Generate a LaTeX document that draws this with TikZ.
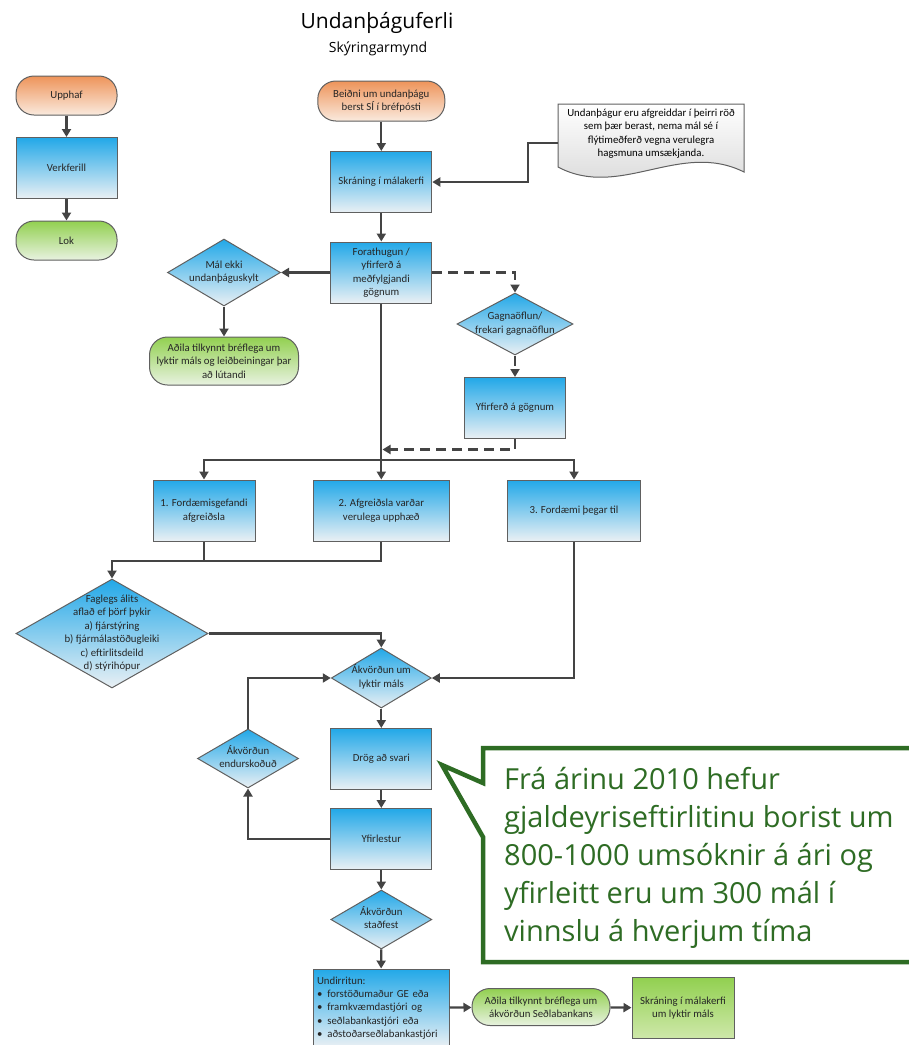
\documentclass[tikz,border=0pt]{standalone}
\usepackage{fontspec}
\setmainfont{Carlito}
\newfontfamily\segoe{Open Sans}
\usetikzlibrary{shapes.geometric,arrows.meta}

\definecolor{flowblue}{RGB}{34,168,232}
\definecolor{flowpale}{RGB}{234,240,244}
\definecolor{floworange}{RGB}{238,148,90}
\definecolor{orangepale}{RGB}{250,234,222}
\definecolor{flowgreen}{RGB}{146,208,80}
\definecolor{greenpale}{RGB}{232,242,224}
\definecolor{limepale}{RGB}{206,232,170}
\definecolor{rimgray}{RGB}{96,96,96}
\definecolor{linegray}{RGB}{68,68,68}
\definecolor{calloutgreen}{RGB}{46,108,36}
\definecolor{notegray}{RGB}{212,212,212}

\newcommand\flowfont{\fontsize{10.8}{13.4}\selectfont}
\def\dtxt#1{\makebox[0pt]{\smash{\raisebox{-2.5pt}{\begin{tabular}{@{}c@{}}#1\end{tabular}}}}}

\tikzset{
  shapebase/.style={draw=rimgray, line width=1pt, font=\flowfont, text=black!85, inner sep=0pt, align=center},
  proc/.style={shapebase, rectangle, top color=flowblue, bottom color=flowpale, minimum height=61pt},
  term/.style={shapebase, rectangle, rounded corners=18pt},
  termorange/.style={term, top color=floworange, bottom color=orangepale},
  termgreen/.style={term, top color=flowgreen, bottom color=greenpale},
  decision/.style={shapebase, diamond, top color=flowblue, bottom color=flowpale},
  link/.style={draw=linegray, line width=2.2pt},
  conn/.style={link, -{Triangle[length=8pt,width=9pt]}},
  dashlink/.style={conn, dash pattern=on 10pt off 6pt}
}

\def\procbox(#1,#2,#3,#4,#5){
  \node[proc, minimum width=#4pt] (#1) at (#2,#3) {#5};
}
\def\termbox(#1,#2,#3,#4,#5,#6,#7){
  \node[#6, minimum width=#4pt, minimum height=#5pt] (#1) at (#2,#3) {#7};
}
\def\decide(#1,#2,#3,#4,#5,#6){
  \node[decision, minimum width=#4pt, minimum height=#5pt] (#1) at (#2,#3) {\dtxt{#6}};
}

\begin{document}
\begin{tikzpicture}[x=1pt,y=-1pt]
\useasboundingbox (0,0) rectangle (909,1045);
\node[font=\segoe\fontsize{21}{25}\selectfont, anchor=base] (fl_title) at (377,28) {Undanþáguferli};
\node[font=\segoe\fontsize{14}{17}\selectfont, anchor=base] (fl_sub) at (378,52) {Skýringarmynd};

\termbox(fl_upphaf,66.5,95.5,101,39,termorange,{Upphaf})
\procbox(fl_verk,66.5,168,101,{Verkferill})
\termbox(fl_lok,66.5,240.5,101,39,termgreen,{Lok})
\draw[conn] (fl_upphaf) -- (fl_verk);
\draw[conn] (fl_verk) -- (fl_lok);

\termbox(fl_beidni,381.3,101,127,40,termorange,{Beiðni um undanþágu\\berst SÍ í bréfpósti})
\procbox(fl_skran,381.3,182,101,{Skráning í málakerfi})
\procbox(fl_fora,381.3,272.5,101,{Forathugun /\\yfirferð á\\meðfylgjandi\\gögnum})
\decide(fl_malekki,224,272.5,113,67,{Mál ekki\\undanþáguskylt})
\termbox(fl_adila,224,361,149,48,termgreen,{Aðila tilkynnt bréflega um\\lyktir máls og leiðbeiningar þar\\að lútandi})
\decide(fl_gagna,515,324,116,62,{Gagnaöflun/\\frekari gagnaöflun})
\procbox(fl_yfirg,515,408,101,{Yfirferð á gögnum})

\draw[top color=white, bottom color=notegray, draw=rimgray, line width=1pt]
  (558,104) -- (744,104) -- (744,172) .. controls (680,140) and (620,200) .. (558,167) -- cycle;
\node[font=\flowfont, align=center] (fl_note) at (651,133.5) {Undanþágur eru afgreiddar í þeirri röð\\sem þær berast, nema mál sé í\\flýtimeðferð vegna verulegra\\hagsmuna umsækjanda.};
\coordinate (note_w) at (558,143);

\draw[conn] (fl_beidni) -- (fl_skran);
\draw[conn] (note_w) -- ++(-30,0) |- (fl_skran.east);
\draw[conn] (fl_skran) -- (fl_fora);
\draw[conn] (fl_fora.west) -- (fl_malekki.east);
\draw[conn] (fl_malekki) -- (fl_adila);
\draw[dashlink] (fl_fora.east) -| (fl_gagna.north);
\draw[dashlink] (fl_gagna) -- (fl_yfirg);

\coordinate (j_dash) at (382.5,449.5);
\coordinate (j_main) at (381.3,460);
\procbox(fl_b1,204,510.5,102,{1. Fordæmisgefandi\\afgreiðsla})
\procbox(fl_b2,381.3,510.5,136,{2. Afgreiðsla varðar\\verulega upphæð})
\procbox(fl_b3,574,510.5,133,{3. Fordæmi þegar til})
\draw[dashlink] (fl_yfirg.south) |- (j_dash);
\draw[link] (fl_fora.south) -- (j_main);
\draw[conn] (j_main) -| (fl_b1.north);
\draw[conn] (j_main) -- (fl_b2.north);
\draw[conn] (j_main) -| (fl_b3.north);

\decide(fl_fag,112,633.5,192,109,{Faglegs álits\\aflað ef þörf þykir\\a) fjárstýring\\b) fjármálastöðugleiki\\c) eftirlitsdeild\\d) stýrihópur})
\decide(fl_lykt,381.3,678,100,60,{Ákvörðun um\\lyktir máls})
\coordinate (j_fag) at (112,561);
\draw[link] (fl_b1.south) -- (fl_b1.south |- j_fag);
\draw[conn] (fl_b2.south) |- (j_fag) -- (fl_fag.north);
\draw[conn] (fl_fag.east) -| (fl_lykt.north);
\draw[conn] (fl_b3.south) |- (fl_lykt.east);

\procbox(fl_drog,381.3,759,101,{Drög að svari})
\decide(fl_endur,248,758.5,101,59,{Ákvörðun\\endurskoðuð})
\procbox(fl_yfirl,381.3,839,101,{Yfirlestur})
\decide(fl_stadf,381.3,919.5,101,59,{Ákvörðun\\staðfest})
\draw[conn] (fl_lykt) -- (fl_drog);
\draw[conn] (fl_drog) -- (fl_yfirl);
\draw[conn] (fl_yfirl.west) -| (fl_endur.south);
\draw[conn] (fl_endur.north) |- (fl_lykt.west);
\draw[conn] (fl_yfirl) -- (fl_stadf);

\node[proc, minimum width=136pt, minimum height=78pt, text width=128pt, align=left] (fl_undir) at (381,1008) {Undirritun:\\
  \textbullet\hspace{5pt}forstöðumaður GE eða\\
  \textbullet\hspace{5pt}framkvæmdastjóri og\\
  \textbullet\hspace{5pt}seðlabankastjóri eða\\
  \textbullet\hspace{5pt}aðstoðarseðlabankastjóri};
\termbox(fl_ad2,541,1007,138,37,termgreen,{Aðila tilkynnt bréflega um\\ákvörðun Seðlabankans})
\node[proc, top color=flowgreen, bottom color=limepale, minimum width=102pt] (fl_skr2) at (683,1008) {Skráning í málakerfi\\um lyktir máls};
\draw[conn] (fl_stadf) -- (fl_undir);
\draw[conn] (fl_undir) -- (fl_ad2);
\draw[conn] (fl_ad2) -- (fl_skr2);

\draw[draw=calloutgreen, fill=white, line width=4.5pt, line join=miter]
  (483,748) -- (915,748) -- (915,962) -- (483,962) -- (483,837) -- (442,765) -- (483,783) -- cycle;
\node[font=\segoe\fontsize{29}{38}\selectfont, text=calloutgreen, align=left, anchor=west, inner sep=0pt] (fl_calltxt) at (504,858) {Frá árinu 2010 hefur\\gjaldeyriseftirlitinu borist um\\800-1000 umsóknir á ári og\\yfirleitt eru um 300 mál í\\vinnslu á hverjum tíma};
\end{tikzpicture}
\end{document}
